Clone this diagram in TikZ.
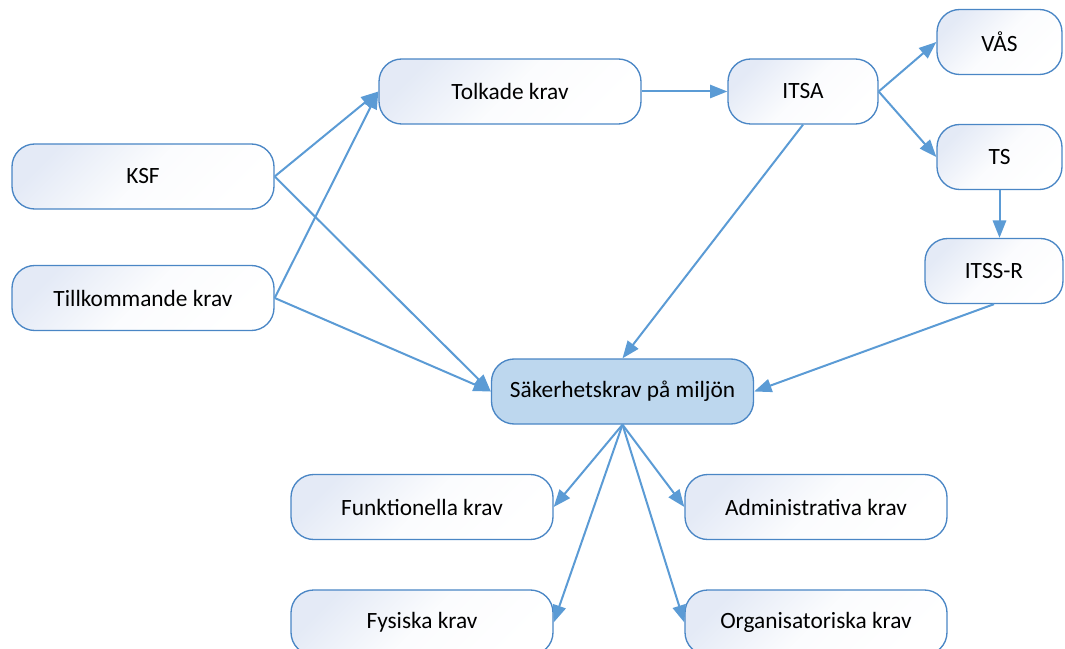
\documentclass[tikz,border=0pt]{standalone}
\usepackage{fontspec}
\setmainfont{Carlito}
\usetikzlibrary{arrows.meta}
\definecolor{linjeblå}{HTML}{5B9BD5}
\definecolor{kantblå}{HTML}{4A86C5}
\definecolor{ljusblå}{HTML}{BDD7EE}
\definecolor{toning}{HTML}{E4EAF6}
\begin{document}
\begin{tikzpicture}[
    x=0.75pt, y=-0.75pt,
    every node/.style={font=\fontsize{17.5}{21}\selectfont, text=black},
    krav/.style={rectangle, rounded corners=17pt, draw=kantblå, line width=1pt,
        minimum width=262*0.75pt, minimum height=65*0.75pt, inner sep=0pt,
        top color=toning, bottom color=white, middle color=white!85!toning, shading angle=45},
    smal/.style={krav, minimum width=125*0.75pt},
    mitt/.style={krav, shading=, top color=ljusblå, bottom color=ljusblå, middle color=ljusblå},
    pil/.style={draw=linjeblå, line width=1.5pt, -{Triangle[length=13pt, width=10pt]}}
    ]
    \clip (0,0) rectangle (1065,649);
    % vänster sida
    \node[krav] (ksf) at (143,176.5) {KSF};
    \node[krav] (till) at (143,298) {Tillkommande krav};
    \node[krav] (tolk) at (510,91.5) {Tolkade krav};
    \node[smal, minimum width=150*0.75pt] (itsa) at (803,91.5) {ITSA};
    % höger sida
    \node[smal] (vas) at (999.5,42) {VÅS};
    \node[smal] (ts) at (999.5,157) {TS};
    \node[smal, minimum width=138*0.75pt] (itssr) at (994,271) {ITSS-R};
    % mitten
    \node[mitt] (sak) at (622.5,391.5) {Säkerhetskrav på miljön};
    % nedre rader
    \node[krav] (funk) at (422,507) {Funktionella krav};
    \node[krav] (adm) at (816,507) {Administrativa krav};
    \node[krav] (fys) at (422,622.5) {Fysiska krav};
    \node[krav] (org) at (816,622.5) {Organisatoriska krav};

    \draw[pil] (ksf.east) -- (tolk.west);
    \draw[pil] (till.east) -- (tolk.west);
    \draw[pil] (ksf.east) -- (sak.west);
    \draw[pil] (till.east) -- (sak.west);
    \draw[pil] (tolk.east) -- (itsa.west);
    \draw[pil] (itsa.east) -- (vas.west);
    \draw[pil] (itsa.east) -- (ts.west);
    \draw[pil] (ts.south) -- (ts.south |- itssr.north);
    \draw[pil] (itsa.south) -- (sak.north);
    \draw[pil] (itssr.south) -- (sak.east);
    \draw[pil] (sak.south) -- (funk.east);
    \draw[pil] (sak.south) -- (fys.east);
    \draw[pil] (sak.south) -- (adm.west);
    \draw[pil] (sak.south) -- (org.west);
\end{tikzpicture}
\end{document}
